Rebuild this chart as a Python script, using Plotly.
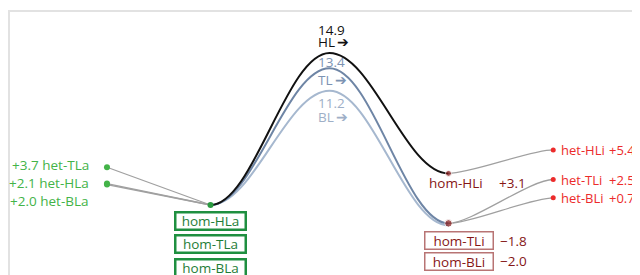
import plotly.graph_objects as go

# ---- data ----
stage_x = [0, 1, 2]
hl_energy = [0.0, 14.9, 3.1]
tl_energy = [0.0, 13.4, -1.8]
bl_energy = [0.0, 11.2, -2.0]

het_la_names = ["het-TLa", "het-HLa", "het-BLa"]
het_la_values = [3.7, 2.1, 2.0]
het_li_names = ["het-HLi", "het-TLi", "het-BLi"]
het_li_values = [5.4, 2.5, 0.7]
hom_la_names = ["hom-HLa", "hom-TLa", "hom-BLa"]
hom_li_names = ["hom-HLi", "hom-TLi", "hom-BLi"]
hom_li_values = [3.1, -1.8, -2.0]

# ---- layout / style constants ----
X_LEFT_HET = -0.87
X_RIGHT_HET = 2.88
TENSION = 0.36
FONT = "Open Sans"
FS = 13.5
GREEN_LBL = "#43b348"
GREEN_BOX = "#1f8f40"
GREEN_TXT = "#1f7d37"
RED_LBL = "#ec2b2b"
RED_DARK = "#851616"
RED_BOX = "#b87474"
GRAY = "#a0a0a0"


def fmt(v):
    return ("+" if v >= 0 else "\u2212") + f"{abs(v):.1f}"


def smooth_path(xs, ys, k=TENSION):
    p = f"M {xs[0]},{ys[0]}"
    for i in range(len(xs) - 1):
        dx = (xs[i + 1] - xs[i]) * k
        p += f" C {xs[i] + dx},{ys[i]} {xs[i + 1] - dx},{ys[i + 1]} {xs[i + 1]},{ys[i + 1]}"
    return p


def link_path(x0, y0, x1, y1, k=0.22):
    dx = (x1 - x0) * k
    return f"M {x0},{y0} C {x0 + dx},{y0} {x1 - dx},{y1} {x1},{y1}"


fig = go.Figure()
shapes = []

# connectors
for v in het_la_values:
    shapes.append(dict(type="line", xref="x", yref="y", x0=stage_x[0], y0=hl_energy[0], x1=X_LEFT_HET, y1=v,
                       line=dict(color=GRAY, width=1.3), layer="below"))
shapes.append(dict(type="path", xref="x", yref="y",
                   path=link_path(stage_x[2], hom_li_values[0], X_RIGHT_HET, het_li_values[0]),
                   line=dict(color=GRAY, width=1.3), layer="below"))
for v in het_li_values[1:]:
    shapes.append(dict(type="path", xref="x", yref="y",
                       path=link_path(stage_x[2], hom_li_values[1], X_RIGHT_HET, v),
                       line=dict(color=GRAY, width=1.3), layer="below"))

# energy profiles
for ys, col in [(bl_energy, "#a6b8cf"), (tl_energy, "#6e85a5"), (hl_energy, "#111111")]:
    shapes.append(dict(type="path", xref="x", yref="y", path=smooth_path(stage_x, ys),
                       line=dict(color=col, width=2), layer="below"))

# frame
shapes.append(dict(type="line", xref="paper", yref="paper", x0=0, x1=1.02, y0=1 - 3 / 275, y1=1 - 3 / 275,
                   line=dict(color="#e2e2e2", width=2), layer="below"))
shapes.append(dict(type="line", xref="paper", yref="paper", x0=1 / 640, x1=1 / 640, y0=-0.02, y1=1 - 2 / 275,
                   line=dict(color="#e2e2e2", width=2), layer="below"))

# dots
fig.add_trace(go.Scatter(x=[X_LEFT_HET] * 3, y=het_la_values, mode="markers",
                         marker=dict(color=GREEN_LBL, size=6), hoverinfo="skip"))
fig.add_trace(go.Scatter(x=[stage_x[0]], y=[hl_energy[0]], mode="markers",
                         marker=dict(color="#2a9a40", size=6), hoverinfo="skip"))
fig.add_trace(go.Scatter(x=[X_RIGHT_HET] * 3, y=het_li_values, mode="markers",
                         marker=dict(color=RED_LBL, size=5), hoverinfo="skip"))
fig.add_trace(go.Scatter(x=[stage_x[2], stage_x[2]], y=[hom_li_values[0], hom_li_values[1]], mode="markers",
                         marker=dict(color=RED_DARK, size=[6, 7.5]), hoverinfo="skip"))


def font(c, size=FS):
    return dict(family=FONT, size=size, color=c)


ann = []
# left het labels
for name, v, ys in zip(het_la_names, het_la_values, [2.3, 1, -16]):
    ann.append(dict(x=X_LEFT_HET, y=v, xref="x", yref="y", text=f"{fmt(v)} {name}",
                    xanchor="right", xshift=-16, yshift=ys, showarrow=False, font=font(GREEN_LBL)))
# right het labels
for name, v in zip(het_li_names, het_li_values):
    ann.append(dict(x=X_RIGHT_HET, y=v, xref="x", yref="y", text=name,
                    xanchor="left", xshift=5.5, showarrow=False, font=font(RED_LBL, 13)))
    ann.append(dict(x=X_RIGHT_HET, y=v, xref="x", yref="y", text=fmt(v),
                    xanchor="left", xshift=53.5, showarrow=False, font=font(RED_LBL, 13)))
# hom-La boxes
for i, name in enumerate(hom_la_names):
    ann.append(dict(x=stage_x[0], y=hl_energy[0], xref="x", yref="y", text=name,
                    showarrow=False, yshift=-15.5 - 23.5 * i, width=68, height=15,
                    bordercolor=GREEN_BOX, borderwidth=2.5, borderpad=0, bgcolor="white",
                    font=font(GREEN_TXT)))
# hom-HLi
ann.append(dict(x=stage_x[2], y=hom_li_values[0], xref="x", yref="y", text=hom_li_names[0],
                showarrow=False, xshift=7, yshift=-9.3, font=font(RED_DARK)))
ann.append(dict(x=stage_x[2], y=hom_li_values[0], xref="x", yref="y", text=fmt(hom_li_values[0]),
                showarrow=False, xanchor="left", xshift=48, yshift=-9.3, font=font(RED_DARK)))
# hom-TLi / hom-BLi boxes
for i, (name, v) in enumerate(zip(hom_li_names[1:], hom_li_values[1:])):
    ann.append(dict(x=stage_x[2], y=hom_li_values[1], xref="x", yref="y", text=name,
                    showarrow=False, xshift=10, yshift=-17.6 - 20.5 * i, width=66, height=15,
                    bordercolor=RED_BOX, borderwidth=1.5, borderpad=0.5, bgcolor="white",
                    font=font(RED_DARK)))
    ann.append(dict(x=stage_x[2], y=hom_li_values[1], xref="x", yref="y", text=fmt(v),
                    showarrow=False, xanchor="left", xshift=49.5, yshift=-17.6 - 20.5 * i,
                    font=font(RED_DARK)))
# TS labels
for v, tag, col, s1, s2 in [(hl_energy[1], "HL", "#111111", 23, 11),
                            (tl_energy[1], "TL", "#7d93b3", 6.3, -11.7),
                            (bl_energy[1], "BL", "#9eafc7", -12.2, -26.2)]:
    ann.append(dict(x=stage_x[1], y=v, xref="x", yref="y", text=f"{v:.1f}",
                    showarrow=False, xanchor="left", xshift=-13.5, yshift=s1, font=font(col)))
    ann.append(dict(x=stage_x[1], y=v, xref="x", yref="y", text=f"{tag}\u2009\u2794",
                    showarrow=False, xanchor="left", xshift=-13.5, yshift=s2, font=font(col)))

fig.update_layout(
    width=640, height=275,
    margin=dict(l=0, r=0, t=0, b=0),
    paper_bgcolor="white", plot_bgcolor="white",
    showlegend=False,
    xaxis=dict(range=[-202.5 / 119, 437.5 / 119], visible=False, fixedrange=True),
    yaxis=dict(range=[-78 / 10.2, 197 / 10.2], visible=False, fixedrange=True),
    annotations=ann,
    shapes=shapes,
)

fig.write_html("out.html")
